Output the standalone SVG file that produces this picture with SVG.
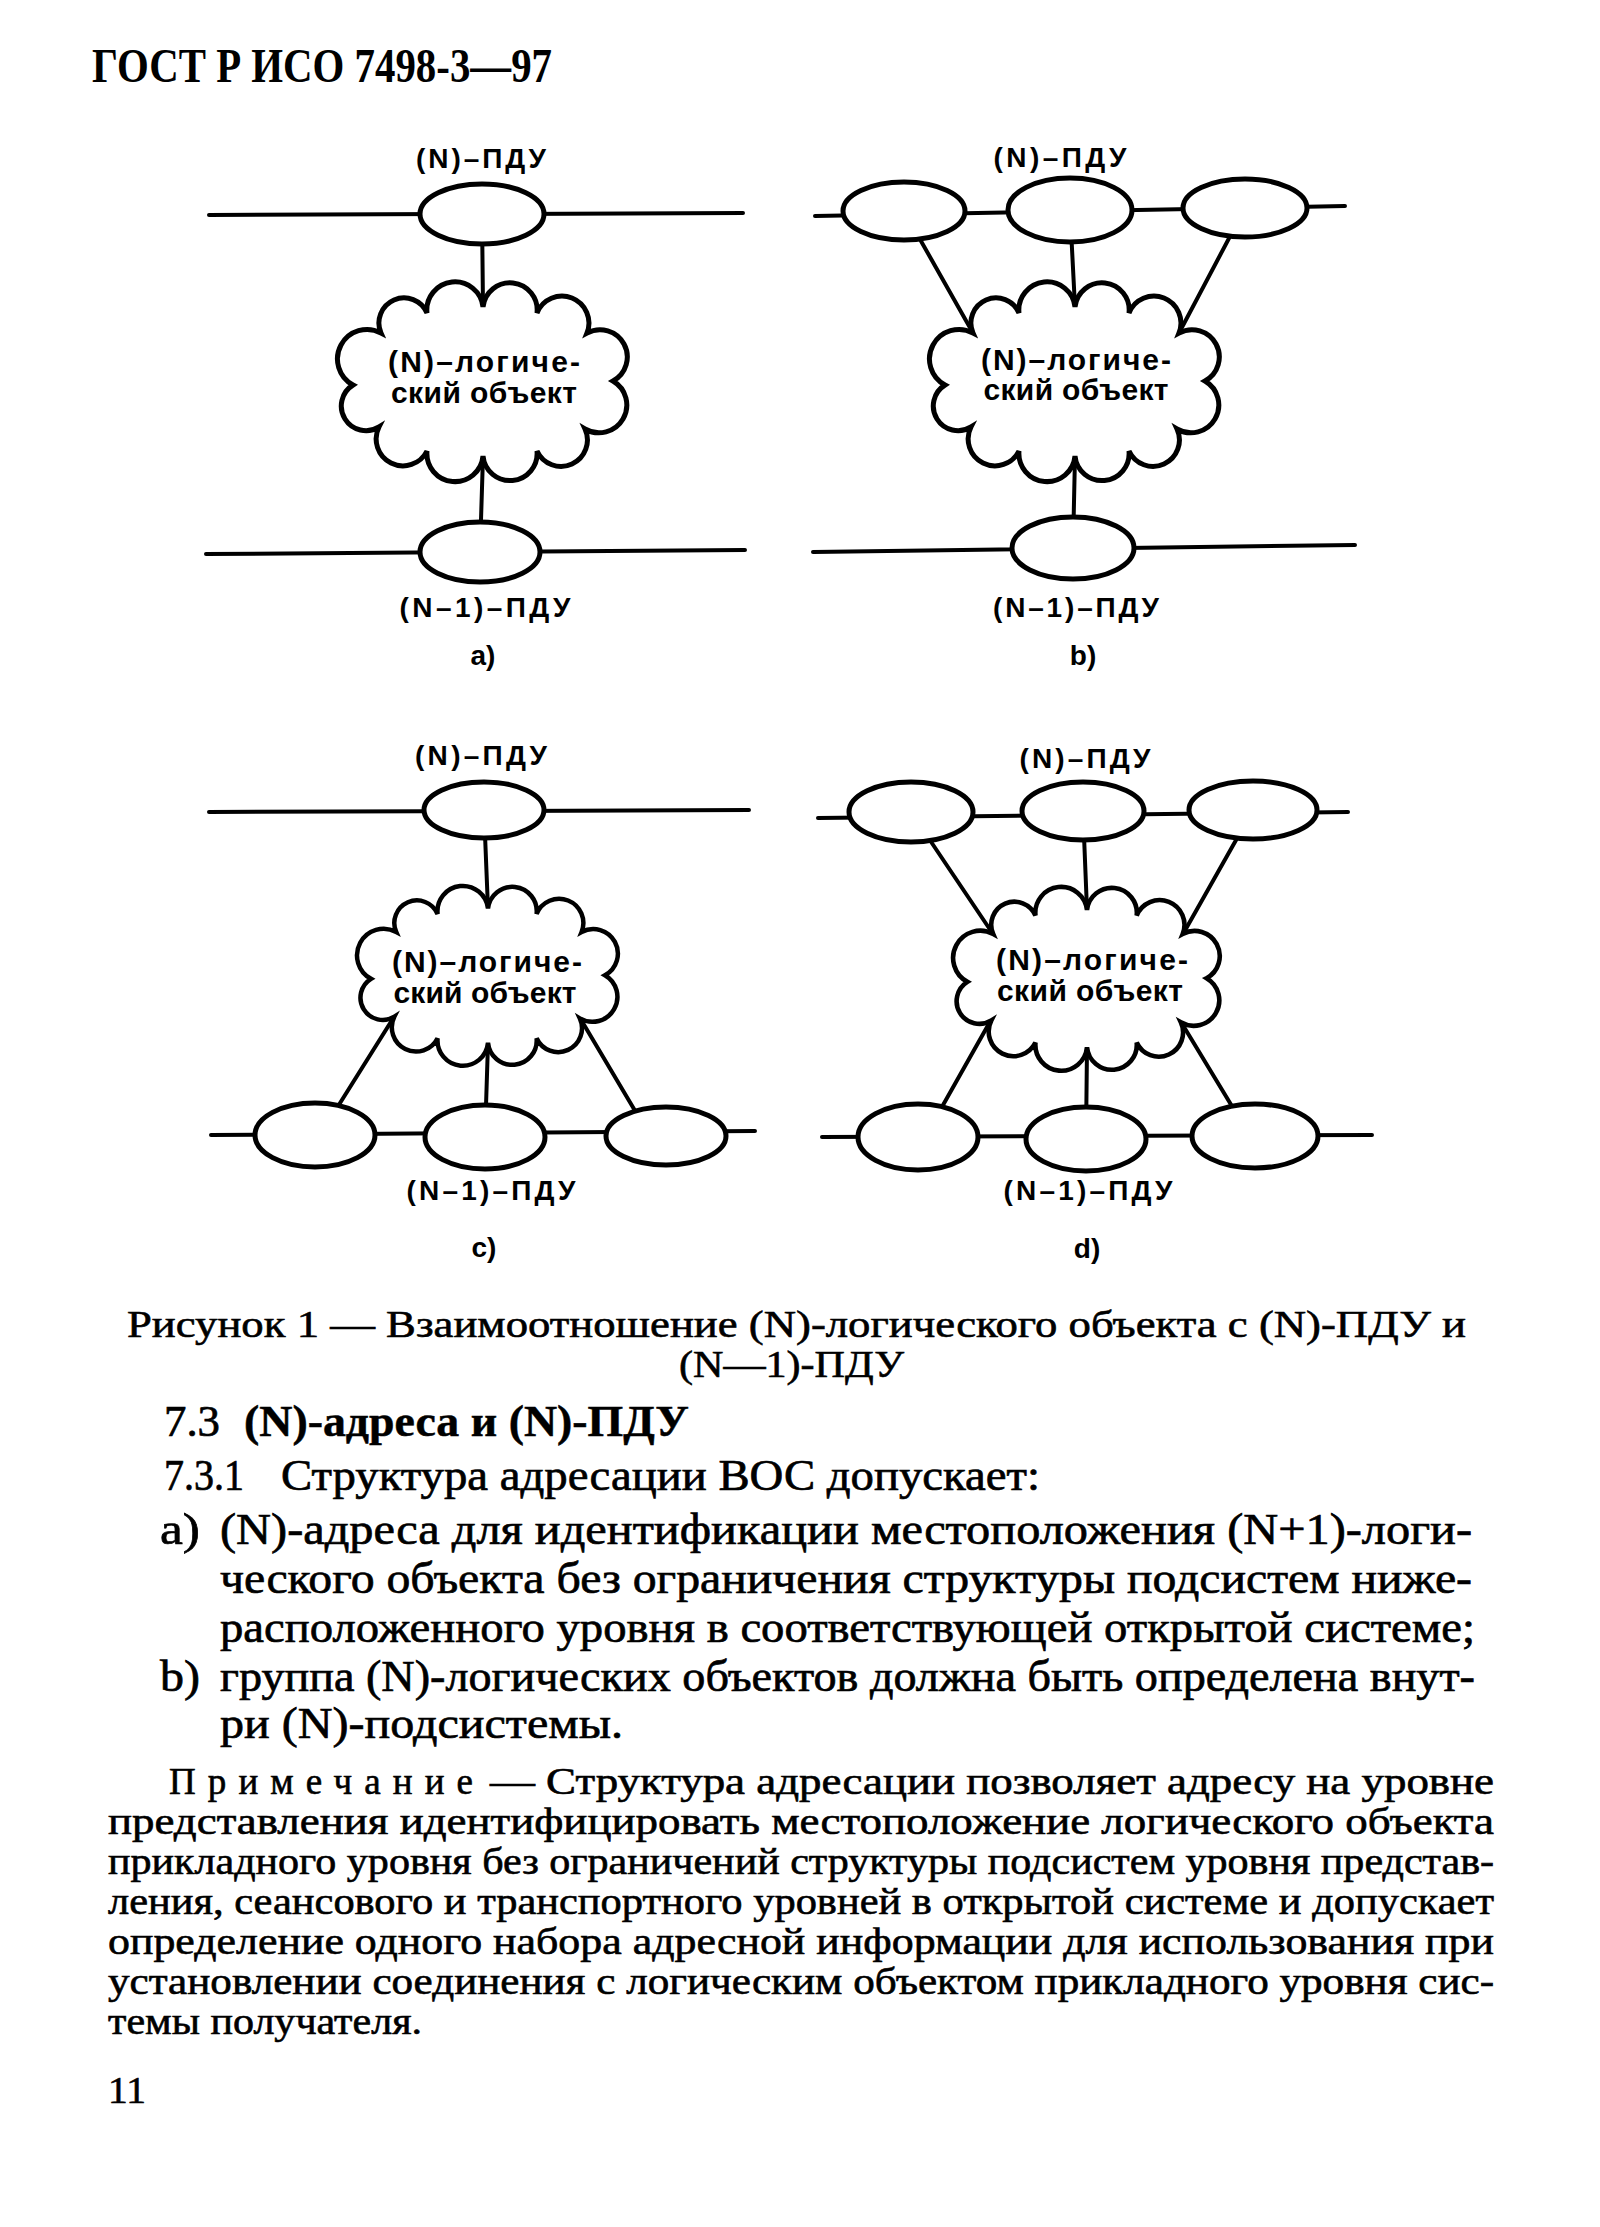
<svg xmlns="http://www.w3.org/2000/svg" xmlns:xlink="http://www.w3.org/1999/xlink" width="1600" height="2227" viewBox="0 0 1600 2227">
<style>
.ln{stroke:#000;stroke-width:4;fill:none;stroke-linecap:round}
.el{fill:#fff;stroke:#000;stroke-width:5}
.cl{fill:#fff;stroke:#000;stroke-width:5;stroke-linejoin:miter}
.lbl{font-family:"Liberation Sans",Arial,sans-serif;font-weight:bold;font-size:28px;text-anchor:middle;fill:#000}
.ct{font-family:"Liberation Sans",Arial,sans-serif;font-weight:bold;font-size:30px;text-anchor:middle;fill:#000}
.hd{font-family:"Liberation Serif","Times New Roman",serif;font-weight:bold;font-size:48px;fill:#000}
.cap{font-family:"Liberation Serif","Times New Roman",serif;font-size:38px;fill:#000;stroke:#000;stroke-width:0.6}
.bd{font-family:"Liberation Serif","Times New Roman",serif;font-size:45px;fill:#000;stroke:#000;stroke-width:0.7}
.bdb{font-family:"Liberation Serif","Times New Roman",serif;font-size:45px;font-weight:bold;fill:#000;stroke:#000;stroke-width:0.5}
.nt{font-family:"Liberation Serif","Times New Roman",serif;font-size:37px;fill:#000;stroke:#000;stroke-width:0.6}
</style>
<defs>
<path id="cloud" d="M0,-76 A1,1 0 0 1 54,-70 A1,1 0 0 1 104,-50 A1,1 0 0 1 130,-2 A1,1 0 0 1 102,46 A1,1 0 0 1 54,68 A1,1 0 0 1 0,73 A1,1 0 0 1 -56,68 A1,1 0 0 1 -104,44 A1,1 0 0 1 -130,2 A1,1 0 0 1 -102,-50 A1,1 0 0 1 -56,-70 A1,1 0 0 1 0,-76 Z"/>
</defs>
<rect width="1600" height="2227" fill="#fff"/>

<text class="hd" x="92" y="82" textLength="460" lengthAdjust="spacingAndGlyphs">ГОСТ Р ИСО 7498-3—97</text>

<g id="connectors">
  <!-- panel a -->
  <line class="ln" x1="209" y1="215" x2="743" y2="213"/>
  <line class="ln" x1="482" y1="214" x2="483" y2="307"/>
  <line class="ln" x1="483" y1="456" x2="480" y2="552"/>
  <line class="ln" x1="206" y1="554" x2="745" y2="550"/>
  <!-- panel b -->
  <line class="ln" x1="815" y1="216" x2="1345" y2="206"/>
  <line class="ln" x1="904" y1="211" x2="973" y2="333"/>
  <line class="ln" x1="1070" y1="210" x2="1075" y2="307"/>
  <line class="ln" x1="1245" y1="208" x2="1179" y2="333"/>
  <line class="ln" x1="1075" y1="456" x2="1073" y2="548"/>
  <line class="ln" x1="813" y1="552" x2="1355" y2="545"/>
  <!-- panel c -->
  <line class="ln" x1="209" y1="812" x2="749" y2="810"/>
  <line class="ln" x1="484" y1="810" x2="488" y2="909"/>
  <line class="ln" x1="394" y1="1017" x2="320" y2="1135"/>
  <line class="ln" x1="488" y1="1043" x2="485" y2="1137"/>
  <line class="ln" x1="580" y1="1018" x2="650" y2="1136"/>
  <line class="ln" x1="211" y1="1135" x2="755" y2="1131"/>
  <!-- panel d -->
  <line class="ln" x1="818" y1="818" x2="1348" y2="812"/>
  <line class="ln" x1="911" y1="812" x2="993" y2="934"/>
  <line class="ln" x1="1083" y1="811" x2="1087" y2="910"/>
  <line class="ln" x1="1253" y1="810" x2="1183" y2="934"/>
  <line class="ln" x1="991" y1="1020" x2="925" y2="1137"/>
  <line class="ln" x1="1087" y1="1047" x2="1086" y2="1139"/>
  <line class="ln" x1="1181" y1="1022" x2="1250" y2="1136"/>
  <line class="ln" x1="822" y1="1137" x2="1372" y2="1135"/>
</g>

<!-- panel a nodes -->
<g id="a-pdu-top"><ellipse class="el" cx="482" cy="214" rx="62" ry="30"/></g>
<g id="a-entity">
  <use href="#cloud" xlink:href="#cloud" class="cl" transform="translate(483,383)"/>
  <text class="ct" x="484" y="372" textLength="192">(N)–логиче-</text>
  <text class="ct" x="484" y="403" textLength="186">ский объект</text>
</g>
<g id="a-pdu-bottom"><ellipse class="el" cx="480" cy="552" rx="60" ry="30"/></g>

<!-- panel b nodes -->
<g id="b-pdu-top-1"><ellipse class="el" cx="904" cy="211" rx="61" ry="29"/></g>
<g id="b-pdu-top-2"><ellipse class="el" cx="1070" cy="210" rx="62" ry="32"/></g>
<g id="b-pdu-top-3"><ellipse class="el" cx="1245" cy="208" rx="62" ry="29"/></g>
<g id="b-entity">
  <use href="#cloud" xlink:href="#cloud" class="cl" transform="translate(1075,383)"/>
  <text class="ct" x="1076" y="370" textLength="190">(N)–логиче-</text>
  <text class="ct" x="1076" y="400" textLength="185">ский объект</text>
</g>
<g id="b-pdu-bottom"><ellipse class="el" cx="1073" cy="548" rx="61" ry="31"/></g>

<!-- panel c nodes -->
<g id="c-pdu-top"><ellipse class="el" cx="484" cy="810" rx="60" ry="28"/></g>
<g id="c-entity">
  <use href="#cloud" xlink:href="#cloud" class="cl" transform="translate(488,977) scale(0.9)"/>
  <text class="ct" x="487" y="972" textLength="190">(N)–логиче-</text>
  <text class="ct" x="485" y="1003" textLength="183">ский объект</text>
</g>
<g id="c-pdu-bottom-1"><ellipse class="el" cx="315" cy="1135" rx="60" ry="32"/></g>
<g id="c-pdu-bottom-2"><ellipse class="el" cx="485" cy="1137" rx="60" ry="32"/></g>
<g id="c-pdu-bottom-3"><ellipse class="el" cx="666" cy="1136" rx="60" ry="29"/></g>

<!-- panel d nodes -->
<g id="d-pdu-top-1"><ellipse class="el" cx="911" cy="812" rx="62" ry="30"/></g>
<g id="d-pdu-top-2"><ellipse class="el" cx="1083" cy="811" rx="61" ry="29"/></g>
<g id="d-pdu-top-3"><ellipse class="el" cx="1253" cy="810" rx="64" ry="29"/></g>
<g id="d-entity">
  <use href="#cloud" xlink:href="#cloud" class="cl" transform="translate(1087,980) scale(0.92)"/>
  <text class="ct" x="1092" y="970" textLength="192">(N)–логиче-</text>
  <text class="ct" x="1090" y="1001" textLength="186">ский объект</text>
</g>
<g id="d-pdu-bottom-1"><ellipse class="el" cx="918" cy="1137" rx="60" ry="33"/></g>
<g id="d-pdu-bottom-2"><ellipse class="el" cx="1086" cy="1139" rx="60" ry="32"/></g>
<g id="d-pdu-bottom-3"><ellipse class="el" cx="1255" cy="1136" rx="63" ry="32"/></g>

<g id="labels">
  <text class="lbl" x="481" y="168" textLength="130">(N)–ПДУ</text>
  <text class="lbl" x="485" y="617" textLength="171">(N–1)–ПДУ</text>
  <text class="lbl" x="483" y="665">a)</text>
  <text class="lbl" x="1060" y="167" textLength="133">(N)–ПДУ</text>
  <text class="lbl" x="1076" y="617" textLength="166">(N–1)–ПДУ</text>
  <text class="lbl" x="1083" y="665">b)</text>
  <text class="lbl" x="481" y="765" textLength="132">(N)–ПДУ</text>
  <text class="lbl" x="491" y="1200" textLength="169">(N–1)–ПДУ</text>
  <text class="lbl" x="484" y="1257">c)</text>
  <text class="lbl" x="1085" y="768" textLength="131">(N)–ПДУ</text>
  <text class="lbl" x="1088" y="1200" textLength="169">(N–1)–ПДУ</text>
  <text class="lbl" x="1087" y="1258">d)</text>
</g>

<g id="caption">
  <text class="cap" x="127" y="1337" textLength="1339" lengthAdjust="spacingAndGlyphs">Рисунок 1 — Взаимоотношение (N)-логического объекта с (N)-ПДУ и</text>
  <text class="cap" x="679" y="1377" textLength="225" lengthAdjust="spacingAndGlyphs">(N—1)-ПДУ</text>
</g>

<g id="body">
  <text class="bd" x="164" y="1436" textLength="56" lengthAdjust="spacingAndGlyphs">7.3</text>
  <text class="bdb" x="244" y="1436" textLength="445" lengthAdjust="spacingAndGlyphs">(N)-адреса и (N)-ПДУ</text>
  <text class="bd" x="164" y="1490" textLength="80" lengthAdjust="spacingAndGlyphs">7.3.1</text>
  <text class="bd" x="281" y="1490" textLength="759" lengthAdjust="spacingAndGlyphs">Структура адресации ВОС допускает:</text>
  <text class="bd" x="160" y="1544" textLength="40" lengthAdjust="spacingAndGlyphs">a)</text>
  <text class="bd" x="220" y="1544" textLength="1252" lengthAdjust="spacingAndGlyphs">(N)-адреса для идентификации местоположения (N+1)-логи-</text>
  <text class="bd" x="220" y="1593" textLength="1252" lengthAdjust="spacingAndGlyphs">ческого объекта без ограничения структуры подсистем ниже-</text>
  <text class="bd" x="220" y="1642" textLength="1255" lengthAdjust="spacingAndGlyphs">расположенного уровня в соответствующей открытой системе;</text>
  <text class="bd" x="160" y="1691" textLength="40" lengthAdjust="spacingAndGlyphs">b)</text>
  <text class="bd" x="220" y="1691" textLength="1255" lengthAdjust="spacingAndGlyphs">группа (N)-логических объектов должна быть определена внут-</text>
  <text class="bd" x="220" y="1738" textLength="403" lengthAdjust="spacingAndGlyphs">ри (N)-подсистемы.</text>
</g>

<g id="note">
  <text class="nt" x="169" y="1794" textLength="304" lengthAdjust="spacing">Примечание</text>
  <text class="nt" x="490" y="1794" textLength="1004" lengthAdjust="spacingAndGlyphs">— Структура адресации позволяет адресу на уровне</text>
  <text class="nt" x="108" y="1834" textLength="1386" lengthAdjust="spacingAndGlyphs">представления идентифицировать местоположение логического объекта</text>
  <text class="nt" x="108" y="1874" textLength="1386" lengthAdjust="spacingAndGlyphs">прикладного уровня без ограничений структуры подсистем уровня представ-</text>
  <text class="nt" x="108" y="1914" textLength="1386" lengthAdjust="spacingAndGlyphs">ления, сеансового и транспортного уровней в открытой системе и допускает</text>
  <text class="nt" x="108" y="1954" textLength="1386" lengthAdjust="spacingAndGlyphs">определение одного набора адресной информации для использования при</text>
  <text class="nt" x="108" y="1994" textLength="1386" lengthAdjust="spacingAndGlyphs">установлении соединения с логическим объектом прикладного уровня сис-</text>
  <text class="nt" x="108" y="2034" textLength="314" lengthAdjust="spacingAndGlyphs">темы получателя.</text>
  <text class="nt" x="108" y="2103" textLength="38" lengthAdjust="spacingAndGlyphs">11</text>
</g>
</svg>
